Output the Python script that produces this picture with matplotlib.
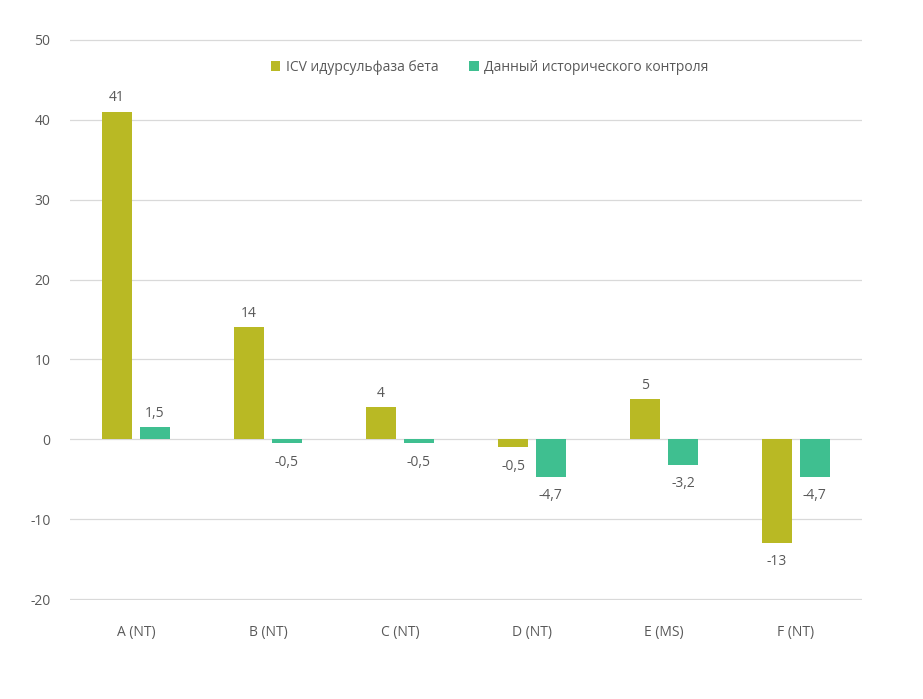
import matplotlib
matplotlib.use("Agg")
import matplotlib.pyplot as plt
import numpy as np

categories = ["A (NT)", "B (NT)", "C (NT)", "D (NT)", "E (MS)", "F (NT)"]
icv_values = [41, 14, 4, -1, 5, -13]
icv_labels = ["41", "14", "4", "-0,5", "5", "-13"]
hist_values = [1.5, -0.5, -0.5, -4.7, -3.2, -4.7]
hist_labels = ["1,5", "-0,5", "-0,5", "-4,7", "-3,2", "-4,7"]
series_names = ["ICV идурсульфаза бета", "Данный исторического контроля"]
yticks = [-20, -10, 0, 10, 20, 30, 40, 50]

plt.rcParams['font.family'] = ['Open Sans', 'DejaVu Sans']

olive = "#b9b924"
teal = "#3fbf90"
txt = "#595959"

fig = plt.figure(figsize=(9.23, 6.99), dpi=100)
ax = fig.add_axes([70/923, 1-600/699, 792/923, 561/699])

x = np.arange(len(categories))
w = 0.227
off = 0.143
b1 = ax.bar(x - off, icv_values, w, color=olive, label=series_names[0], zorder=3)
b2 = ax.bar(x + off, hist_values, w, color=teal, label=series_names[1], zorder=3)

for bars, labels in ((b1, icv_labels), (b2, hist_labels)):
    for rect, lab in zip(bars, labels):
        h = rect.get_height()
        xc = rect.get_x() + rect.get_width()/2
        if h >= 0:
            ax.annotate(lab, (xc, h), xytext=(0, 5), textcoords="offset points",
                        ha="center", va="bottom", fontsize=10, color=txt)
        else:
            ax.annotate(lab, (xc, h), xytext=(0, -8), textcoords="offset points",
                        ha="center", va="top", fontsize=10, color=txt)

ax.set_xlim(-0.5, len(categories) - 0.5)
ax.set_ylim(-20.08, 50.08)
ax.set_yticks(yticks)
ax.set_yticklabels([str(v) for v in yticks])
ax.yaxis.grid(True, color="#d9d9d9", linewidth=0.9, zorder=0)
ax.set_axisbelow(True)
for s in ax.spines.values():
    s.set_visible(False)
ax.tick_params(axis="y", length=0, pad=14, labelsize=10, labelcolor=txt)
ax.tick_params(axis="x", length=0, pad=18, labelsize=10, labelcolor=txt)
ax.set_xticks(x)
ax.set_xticklabels(categories)

ax.legend(loc="center", bbox_to_anchor=(0.53, 0.95), ncol=2, frameon=False,
          fontsize=10, handlelength=0.7, handleheight=0.7, columnspacing=2.2,
          handletextpad=0.4, labelcolor=txt)

fig.savefig("out.png", dpi=100)
